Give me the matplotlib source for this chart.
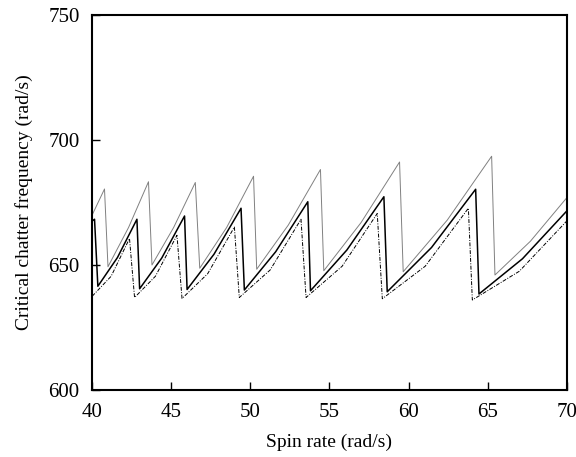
import matplotlib
matplotlib.use("Agg")
import matplotlib.pyplot as plt

# upper curve (thin grey)
upper_x = [40.0, 40.78, 41.0, 42.3, 43.56, 43.78, 45.15, 46.52, 46.8, 48.5, 50.2, 50.4,
           52.4, 54.43, 54.64, 57.0, 59.43, 59.66, 62.45, 65.25, 65.46, 67.7, 70.0]
upper_y = [670, 680.4, 649.3, 665, 683.3, 650.0, 665, 683.0, 648.7, 665, 685.5, 648.3,
           666, 688.2, 647.7, 667, 691.2, 647.3, 668, 693.5, 646.0, 659.5, 676.9]

# middle curve (solid black)
mid_x = [40.0, 40.15, 40.36, 41.6, 42.83, 43.0, 44.4, 45.84, 46.0, 47.7, 49.41, 49.62,
         51.6, 53.63, 53.8, 56.1, 58.44, 58.65, 61.45, 64.24, 64.45, 67.2, 70.0]
mid_y = [667.6, 668.3, 641.5, 653, 668.3, 640.5, 652.8, 669.6, 640.2, 654.3, 672.7, 640.0,
         655.3, 675.3, 639.7, 656, 677.3, 639.3, 657, 680.3, 638.4, 652.5, 671.6]

# lower curve (dash-dot)
low_x = [40.0, 41.2, 42.36, 42.68, 44.0, 45.36, 45.68, 47.3, 48.99, 49.3, 51.25, 53.2,
         53.52, 55.8, 58.02, 58.34, 61.05, 63.78, 64.03, 67.0, 70.0]
low_y = [637.5, 645.5, 660.6, 637, 645.5, 661.9, 636.6, 646.5, 665.2, 637, 648, 668.3,
         637, 649.5, 670.6, 636.5, 649.5, 672.7, 636, 647.5, 667.6]

plt.rcParams["font.family"] = "Liberation Serif"

fig = plt.figure(figsize=(5.76, 4.57), dpi=100)
ax = fig.add_axes([0.16, 0.1466, 0.824, 0.8206])

ax.plot(upper_x, upper_y, color="#808080", lw=0.7)
ax.plot(mid_x, mid_y, color="black", lw=1.1)
ax.plot(low_x, low_y, color="black", lw=0.7, linestyle=(0, (4, 1.5, 1, 1.5)))

ax.set_xlim(40, 70)
ax.set_ylim(600, 750)
ax.set_xticks([40, 45, 50, 55, 60, 65, 70])
ax.set_yticks([600, 650, 700, 750])

ax.tick_params(direction="in", length=6, width=1, labelsize=15)
ax.tick_params(axis="x", pad=9)
ax.tick_params(axis="y", pad=9)
for s in ax.spines.values():
    s.set_linewidth(1.5)

ax.set_xlabel("Spin rate (rad/s)", fontsize=14, labelpad=9)
ax.set_ylabel("Critical chatter frequency (rad/s)", fontsize=14, labelpad=11)

plt.savefig("out.png", dpi=100)
plt.close()
